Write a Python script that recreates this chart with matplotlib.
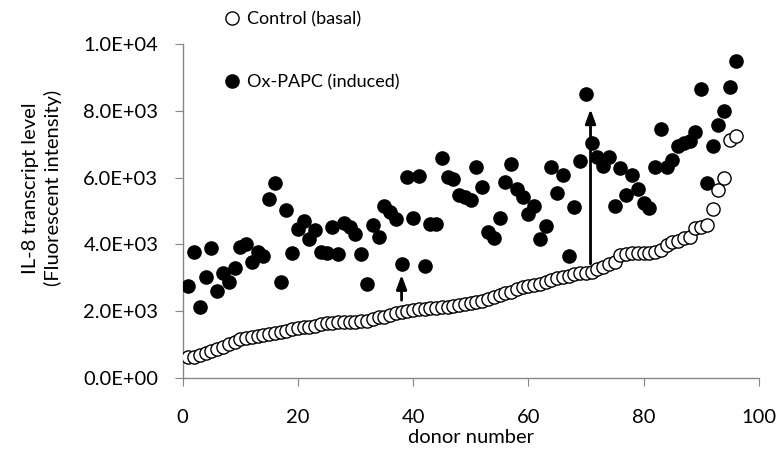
import numpy as np
import matplotlib
matplotlib.use("Agg")
import matplotlib.pyplot as plt
from matplotlib.ticker import FuncFormatter

# -----------------------------
# Data
# -----------------------------
donor = np.arange(1, 97)

control = [
    620, 640, 690, 740, 820, 860, 920, 1010, 1090, 1160,
    1210, 1240, 1260, 1290, 1320, 1340, 1370, 1410, 1460, 1490,
    1520, 1540, 1570, 1610, 1640, 1660, 1670, 1680, 1690, 1690,
    1700, 1710, 1760, 1820, 1840, 1890, 1940, 1990, 2020, 2040,
    2060, 2070, 2090, 2110, 2120, 2140, 2170, 2190, 2210, 2240,
    2270, 2310, 2370, 2420, 2490, 2540, 2580, 2660, 2720, 2750,
    2780, 2810, 2870, 2930, 2990, 3010, 3060, 3100, 3130, 3150,
    3180, 3250, 3330, 3410, 3480, 3680, 3710, 3730, 3730, 3730,
    3750, 3780, 3830, 3980, 4080, 4110, 4180, 4210, 4480, 4510,
    4580, 5050, 5630, 5980, 7125, 7245,
]

oxpapc = [
    2750, 3780, 2135, 3035, 3880, 2615, 3130, 2865, 3280, 3910,
    4000, 3460, 3780, 3650, 5350, 5850, 2885, 5030, 3750, 4460,
    4700, 4160, 4430, 3780, 3730, 4530, 3710, 4650, 4510, 4310,
    3710, 2815, 4580, 4210, 5150, 4980, 4760, 3410, 6030, 4780,
    6060, 3350, 4610, 4600, 6600, 6030, 5960, 5480, 5430, 5330,
    6330, 5730, 4380, 4180, 4800, 5860, 6400, 5660, 5430, 4910,
    5150, 4160, 4560, 6330, 5530, 6080, 3650, 5130, 6500, 8500,
    7030, 6630, 6350, 6630, 5160, 6280, 5480, 6080, 5650, 5230,
    5080, 6310, 7450, 6310, 6530, 6950, 7050, 7110, 7380, 8640,
    5830, 6950, 7570, 7990, 8720, 9490,
]

# arrows: (donor, from, to)
arrows = [(38, 2330, 3090), (70.8, 3420, 8050)]

FONT = ["Lato", "DejaVu Sans"]
plt.rcParams["font.family"] = FONT
plt.rcParams["font.size"] = 14


def sci_fmt(v, pos):
    if v == 0:
        return "0.0E+00"
    exp = int(np.floor(np.log10(abs(v))))
    return f"{v / 10**exp:.1f}E+{exp:02d}"


fig = plt.figure(figsize=(7.83, 4.55), dpi=100)
ax = fig.add_axes([0.2333, 0.1692, 0.7357, 0.7341])

ax.plot(donor, oxpapc, "o", color="black", markersize=9.5,
        label="Ox-PAPC (induced)", zorder=3)
ax.plot(donor, control, "o", markerfacecolor="white", markeredgecolor="black",
        markeredgewidth=1.0, markersize=9.5, label="Control (basal)", zorder=4)

for x, y0, y1 in arrows:
    ax.annotate("", xy=(x, y1), xytext=(x, y0),
                arrowprops=dict(arrowstyle="-|>,head_length=0.6,head_width=0.22",
                                color="black", lw=2, shrinkA=0, shrinkB=0),
                zorder=5)

ax.set_xlim(0, 100)
ax.set_ylim(0, 10000)
ax.set_xticks(range(0, 101, 20))
ax.set_yticks(range(0, 10001, 2000))
ax.yaxis.set_major_formatter(FuncFormatter(sci_fmt))

for s in ["top", "right"]:
    ax.spines[s].set_visible(False)
for s in ["left", "bottom"]:
    ax.spines[s].set_color("#868686")
    ax.spines[s].set_linewidth(1.0)
ax.tick_params(axis="both", direction="out", length=5.5, color="#868686",
               labelsize=14.5)
ax.tick_params(axis="y", pad=12)
ax.tick_params(axis="x", pad=17)

ax.set_xlabel("donor number", fontsize=14.5, labelpad=2)
ax.set_ylabel("IL-8 transcript level\n(Fluorescent intensity)", fontsize=14.5,
              linespacing=1.35)
ax.yaxis.set_label_coords(-0.209, 0.569)

h, l = ax.get_legend_handles_labels()
ax.legend(h[::-1], l[::-1], loc="upper left", bbox_to_anchor=(0.064, 1.12),
          frameon=False, fontsize=13, handlelength=0.6, handletextpad=0.5,
          labelspacing=2.6, borderaxespad=0)

fig.savefig("out.png", dpi=100)
